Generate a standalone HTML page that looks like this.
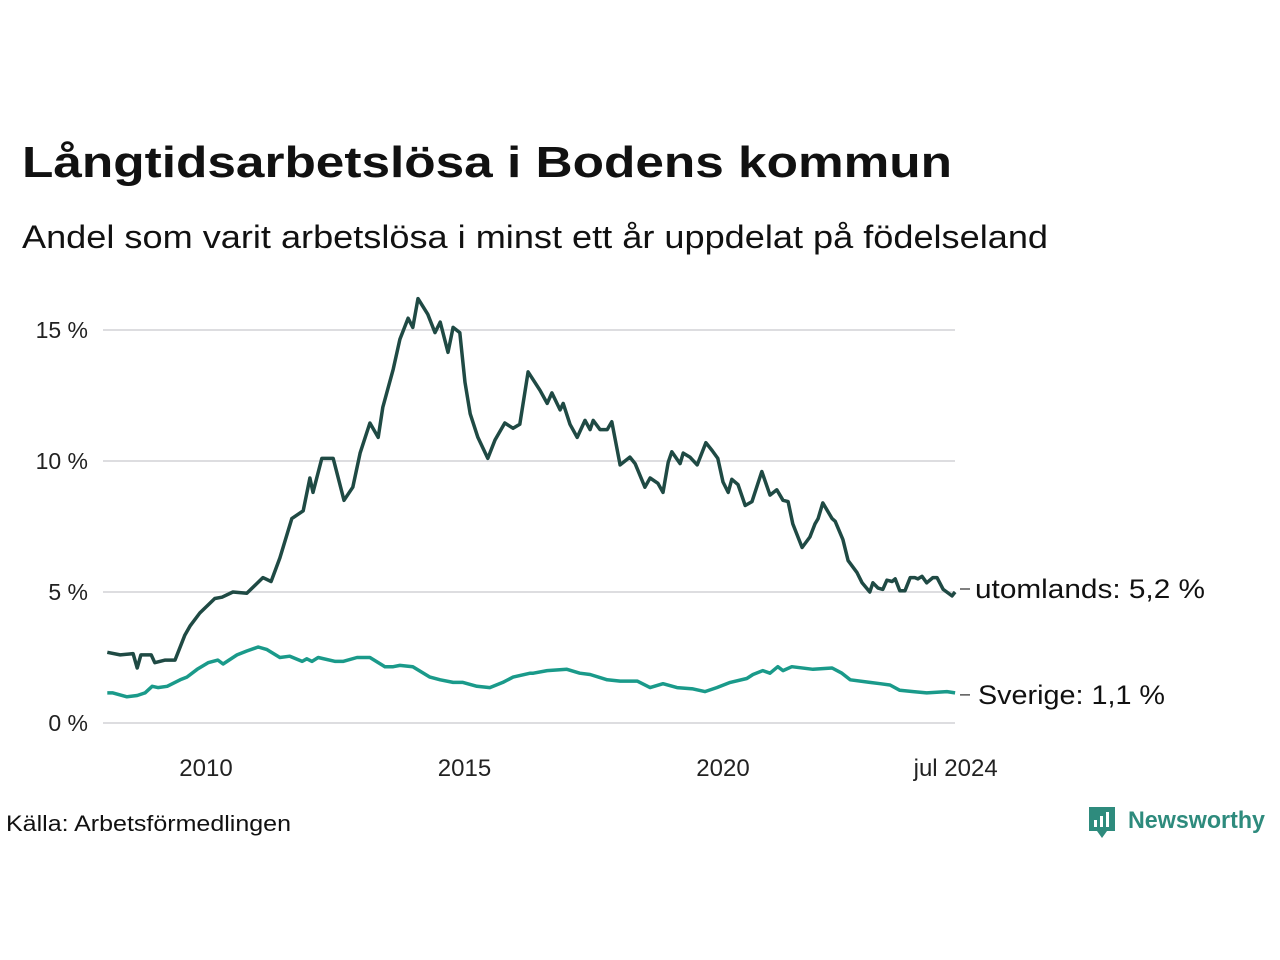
<!DOCTYPE html>
<html><head><meta charset="utf-8"><style>
html,body{margin:0;padding:0;background:#fff;}
svg{display:block;font-family:"Liberation Sans","Noto Sans CJK SC",sans-serif;}
</style></head><body>
<svg id="chart" width="1280" height="960" viewBox="0 0 1280 960" xmlns="http://www.w3.org/2000/svg">
<text x="22" y="177" font-size="44" font-weight="bold" fill="#111" textLength="930" lengthAdjust="spacingAndGlyphs">Långtidsarbetslösa i Bodens kommun</text>
<text x="22" y="248" font-size="32" fill="#111" textLength="1026" lengthAdjust="spacingAndGlyphs">Andel som varit arbetslösa i minst ett år uppdelat på födelseland</text>
<g id="grid"></g>
<g id="yticks"></g>
<g id="xticks"></g>
<g id="series"></g>
<g id="labels"></g>
<text x="6" y="831" font-size="22" fill="#111" textLength="285" lengthAdjust="spacingAndGlyphs">Källa: Arbetsförmedlingen</text>
<g>
<path d="M1089 807 h26 v24 h-8 l-5 7 l-5 -7 h-8 z" fill="#2e8b7d"/>
<rect x="1094" y="820" width="3" height="7" fill="#fff"/>
<rect x="1100" y="816" width="3" height="11" fill="#fff"/>
<rect x="1106" y="812" width="3" height="15" fill="#fff"/>
<text x="1128" y="828" font-size="24" font-weight="bold" fill="#2e8b7d" textLength="137" lengthAdjust="spacingAndGlyphs">Newsworthy</text>
</g>
</svg>
<script>
const yTicks=[0,5,10,15];
const yTickLabels=["0 %","5 %","10 %","15 %"];
const xTicks=[2010,2015,2020,2024.5];
const xTickLabels=["2010","2015","2020","jul 2024"];
const abroadDates=[2008.09,2008.34,2008.59,2008.67,2008.74,2008.94,2009.01,2009.21,2009.40,2009.59,2009.69,2009.88,2010.17,2010.31,2010.52,2010.79,2011.10,2011.26,2011.43,2011.66,2011.88,2012.01,2012.07,2012.24,2012.46,2012.67,2012.84,2012.98,2013.17,2013.33,2013.42,2013.62,2013.75,2013.91,2014.00,2014.10,2014.29,2014.43,2014.53,2014.68,2014.78,2014.91,2015.01,2015.11,2015.26,2015.45,2015.59,2015.78,2015.94,2016.07,2016.23,2016.46,2016.60,2016.69,2016.85,2016.91,2017.04,2017.18,2017.33,2017.43,2017.49,2017.62,2017.76,2017.85,2018.01,2018.20,2018.30,2018.49,2018.59,2018.74,2018.84,2018.94,2019.01,2019.17,2019.23,2019.36,2019.50,2019.67,2019.79,2019.90,2020.00,2020.10,2020.17,2020.29,2020.43,2020.56,2020.75,2020.91,2021.04,2021.16,2021.26,2021.35,2021.53,2021.68,2021.78,2021.84,2021.93,2022.11,2022.17,2022.32,2022.42,2022.59,2022.69,2022.84,2022.90,2023.00,2023.09,2023.17,2023.27,2023.33,2023.42,2023.52,2023.62,2023.71,2023.77,2023.85,2023.94,2024.06,2024.14,2024.26,2024.43,2024.49];
const abroadValues=[2.7,2.6,2.65,2.1,2.6,2.6,2.3,2.4,2.4,3.35,3.7,4.2,4.75,4.8,5.0,4.95,5.55,5.4,6.3,7.8,8.1,9.35,8.8,10.1,10.1,8.5,9.0,10.3,11.45,10.9,12.05,13.5,14.65,15.45,15.1,16.2,15.6,14.9,15.3,14.15,15.1,14.9,13.0,11.8,10.9,10.1,10.8,11.45,11.25,11.4,13.4,12.7,12.2,12.6,11.95,12.2,11.4,10.9,11.55,11.2,11.55,11.2,11.2,11.5,9.85,10.15,9.9,9.0,9.35,9.15,8.8,9.95,10.35,9.9,10.3,10.15,9.85,10.7,10.4,10.1,9.2,8.8,9.3,9.1,8.3,8.45,9.6,8.7,8.9,8.5,8.45,7.6,6.7,7.1,7.6,7.8,8.4,7.8,7.7,7.0,6.2,5.75,5.35,5.0,5.35,5.15,5.1,5.45,5.4,5.5,5.05,5.05,5.55,5.55,5.5,5.6,5.35,5.55,5.55,5.1,4.85,5.0];
const swedenDates=[2008.09,2008.20,2008.47,2008.67,2008.82,2008.96,2009.07,2009.25,2009.50,2009.63,2009.83,2010.04,2010.23,2010.33,2010.60,2010.79,2011.01,2011.18,2011.43,2011.62,2011.86,2011.95,2012.05,2012.17,2012.50,2012.65,2012.92,2013.17,2013.46,2013.62,2013.75,2014.00,2014.33,2014.53,2014.78,2014.97,2015.24,2015.49,2015.74,2015.94,2016.27,2016.33,2016.60,2016.98,2017.23,2017.43,2017.76,2018.01,2018.34,2018.59,2018.84,2019.11,2019.42,2019.65,2019.88,2020.14,2020.46,2020.58,2020.77,2020.91,2021.06,2021.16,2021.33,2021.74,2022.11,2022.30,2022.46,2022.84,2023.04,2023.23,2023.42,2023.68,2023.94,2024.33,2024.49];
const swedenValues=[1.15,1.15,1.0,1.05,1.15,1.4,1.35,1.4,1.65,1.75,2.05,2.3,2.4,2.25,2.6,2.75,2.9,2.8,2.5,2.55,2.35,2.45,2.35,2.5,2.35,2.35,2.5,2.5,2.15,2.15,2.2,2.15,1.75,1.65,1.55,1.55,1.4,1.35,1.55,1.75,1.9,1.9,2.0,2.05,1.9,1.85,1.65,1.6,1.6,1.35,1.5,1.35,1.3,1.2,1.35,1.55,1.7,1.85,2.0,1.9,2.15,2.0,2.15,2.05,2.1,1.9,1.65,1.55,1.5,1.45,1.25,1.2,1.15,1.2,1.15];
const seriesLabels=["utomlands: 5,2 %","Sverige: 1,1 %"];

const NS="http://www.w3.org/2000/svg";
const X0=103, X1=955;
function xScale(yr){return 206+(yr-2010)*51.7;}
function yScale(v){return 723-v*26.2;}
function mk(tag,attrs,parent){const e=document.createElementNS(NS,tag);for(const k in attrs)e.setAttribute(k,attrs[k]);parent.appendChild(e);return e;}
const grid=document.getElementById('grid'),yt=document.getElementById('yticks'),xt=document.getElementById('xticks'),ser=document.getElementById('series'),lab=document.getElementById('labels');
yTicks.forEach((v,i)=>{
  const l=mk('line',{x1:X0,x2:X1,y1:yScale(v),y2:yScale(v),stroke:'#dddde0','stroke-width':2},grid);
  
  
  const t=mk('text',{x:88,y:yScale(v)+8,'font-size':23,fill:'#222','text-anchor':'end'},yt);
  t.textContent=yTickLabels[i];
  
  
});
xTicks.forEach((v,i)=>{
  const t=mk('text',{x:xScale(v),y:776,'font-size':24,fill:'#222','text-anchor':'middle'},xt);
  t.textContent=xTickLabels[i];
  
  
});
function line(dates,vals,color,name){
  const d=dates.map((yr,i)=>(i?'L':'M')+xScale(yr).toFixed(1)+' '+yScale(vals[i]).toFixed(1)).join(' ');
  const p=mk('path',{d:d,fill:'none',stroke:color,'stroke-width':3.5,'stroke-linejoin':'round'},ser);
  
  
}
line(swedenDates,swedenValues,'#1a9a8a','sverige-line');
line(abroadDates,abroadValues,'#1f4a44','utomlands-line');
const lastA=abroadValues[abroadValues.length-1], lastS=swedenValues[swedenValues.length-1];
[[yScale(lastA)-3,seriesLabels[0],'utomlands-label',975,230],[yScale(lastS)+2,seriesLabels[1],'sverige-label',978,187]].forEach(a=>{
  mk('line',{x1:960,x2:970,y1:a[0],y2:a[0],stroke:'#555','stroke-width':1.5},lab);
  const t=mk('text',{x:a[3],y:a[0]+9,'font-size':27,fill:'#111',textLength:a[4],lengthAdjust:'spacingAndGlyphs'},lab);
  t.textContent=a[1];
  
  
});
</script>
</body></html>
